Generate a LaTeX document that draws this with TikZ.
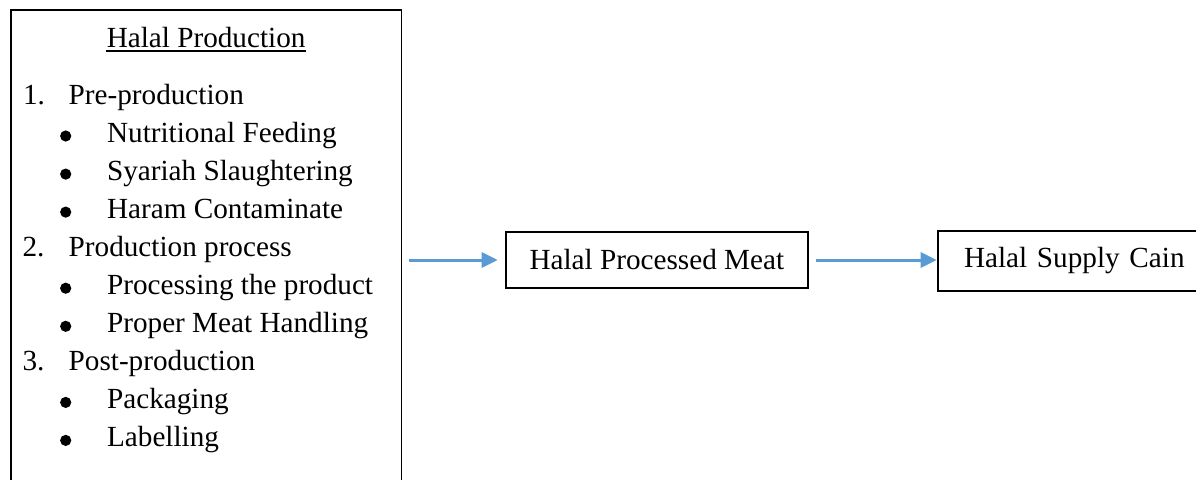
\documentclass[tikz,border=0pt]{standalone}
\usepackage{fontspec}
\setmainfont{Liberation Serif}
\usetikzlibrary{arrows.meta}
\definecolor{arrowblue}{HTML}{5B9BD5}
\begin{document}
\begin{tikzpicture}[x=0.5pt,y=-0.5pt,
  txt/.style={inner sep=0pt,anchor=base west,font=\fontsize{14.6}{17}\selectfont},
  bul/.style={circle,fill=black,inner sep=0pt,minimum size=5.6pt},
  boxed/.style={draw=black,line width=0.9pt,rectangle,outer sep=0pt,font=\fontsize{14.6}{17}\selectfont},
  flow/.style={draw=arrowblue,line width=1.5pt,-{Triangle[length=8pt,width=7.5pt]}}]
\useasboundingbox (0,0) rectangle (1196,479);
\clip (0,0) rectangle (1196,479);
% left box
\node[boxed,inner sep=0pt,minimum width=195.4pt,minimum height=255pt] (prod) at (206.1,265) {};
\node[txt,anchor=base] (title) at (206.1,47.7) {Halal Production};
\draw[line width=0.75pt] ([yshift=-1.6pt]title.base west) -- ([yshift=-1.6pt]title.base east);
% items
\node[txt] (n1) at (22.7,104.3) {1.};
\node[txt] (i1) at (68.3,104.3) {Pre-production};
\node[bul] (b1) at (65.7,136) {};
\node[txt] (t1) at (106.7,142.3) {Nutritional Feeding};
\node[bul] (b2) at (65.7,174.1) {};
\node[txt] (t2) at (106.7,180.4) {Syariah Slaughtering};
\node[bul] (b3) at (65.7,212.1) {};
\node[txt] (t3) at (106.7,218.4) {Haram Contaminate};
\node[txt] (n2) at (22.2,256.5) {2.};
\node[txt] (i2) at (68.3,256.5) {Production process};
\node[bul] (b4) at (65.7,288.2) {};
\node[txt] (t4) at (106.7,294.5) {Processing the product};
\node[bul] (b5) at (65.7,326.3) {};
\node[txt] (t5) at (106.7,332.6) {Proper Meat Handling};
\node[txt] (n3) at (22.2,370.6) {3.};
\node[txt] (i3) at (68.3,370.6) {Post-production};
\node[bul] (b6) at (65.7,402.4) {};
\node[txt] (t6) at (106.7,408.7) {Packaging};
\node[bul] (b7) at (65.7,440.4) {};
\node[txt] (t7) at (106.7,446.7) {Labelling};
% middle box
\node[boxed,inner sep=0pt,minimum width=150.85pt,minimum height=28.3pt] (mid) at (656.85,260) {Halal Processed Meat};
% right box (runs past the right edge)
\node[boxed,anchor=west,inner xsep=13pt,inner ysep=0pt,text width=150pt,align=left,minimum height=30pt] (sup) at (938,261) {Halal Supply Cain};
% arrows
\draw[flow,shorten <=3.75pt,shorten >=4.15pt] (prod.east |- mid.west) -- (mid.west);
\draw[flow,shorten <=4pt,shorten >=0.65pt] (mid.east) -- (mid.east -| sup.west);
\end{tikzpicture}
\end{document}
